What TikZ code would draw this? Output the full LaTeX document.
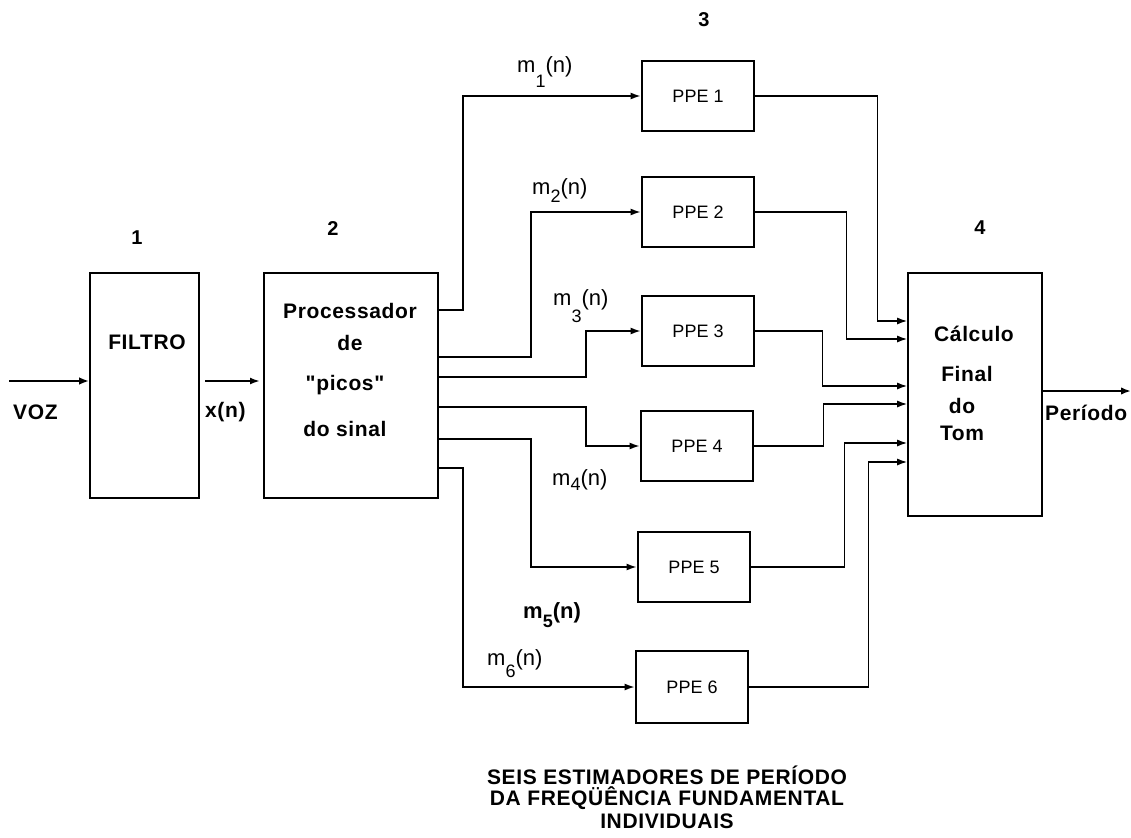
\documentclass[tikz,border=0pt]{standalone}
\usepackage{fontspec}
\setmainfont{Liberation Sans}
\newfontfamily\lbfam[LetterSpace=3,Ligatures=TeXOff]{Liberation Sans}
\usetikzlibrary{calc,arrows.meta}
\newcommand{\fsz}[1]{\fontsize{#1}{#1}\selectfont}
\newcommand{\msub}[2]{m\raisebox{-#2pt}{\fsz{18}#1}(n)}
\begin{document}
\begin{tikzpicture}[x=1pt,y=-1pt,
  blk/.style={draw,line width=1.6pt,inner sep=0pt},
  ppebox/.style={draw,line width=2.8pt,minimum width=112pt,minimum height=70pt,inner sep=0pt,font=\fsz{18}},
  conn/.style={line width=1.5pt},
  arr/.style={conn,-{Latex[length=10pt,width=7pt]}},
  bigarr/.style={line width=2.8pt,-{Latex[length=10pt,width=7.5pt]}},
  lbl/.style={font=\lbfam\fsz{21}\bfseries,inner sep=0pt,anchor=base},
  num/.style={font=\fsz{20}\bfseries,inner sep=0pt},
  mlbl/.style={font=\fsz{22},inner sep=0pt,anchor=base west}]
\useasboundingbox (0,0) rectangle (1131,837);

% main blocks
\node[blk,minimum width=109pt,minimum height=225pt] (filt) at (144.5,385.5) {};
\node[blk,minimum width=174pt,minimum height=225pt] (proc) at (351,385.5) {};
\node[blk,minimum width=134pt,minimum height=243pt] (fin) at (975,394.5) {};

% PPE blocks
\node[ppebox] (ppe1) at (698,96) {PPE 1};
\node[ppebox] (ppe2) at (698,212) {PPE 2};
\node[ppebox] (ppe3) at (698,331) {PPE 3};
\node[ppebox] (ppe4) at (697,446) {PPE 4};
\node[ppebox] (ppe5) at (694,567) {PPE 5};
\node[ppebox,minimum height=72pt] (ppe6) at (692,687) {PPE 6};

% numbers
\node[num] (n1) at (137,238) {1};
\node[num] (n2) at (333,229) {2};
\node[num] (n3) at (704,20) {3};
\node[num] (n4) at (980,228) {4};

% block texts
\node[lbl] (tfilt) at (147,349) {FILTRO};
\node[lbl] (tp1) at (350,318) {Processador};
\node[lbl] (tp2) at (350,350) {de};
\node[lbl] (tp3) at (345,390) {"picos"};
\node[lbl] (tp4) at (345,436) {do sinal};
\node[lbl] (tf1) at (974,341) {Cálculo};
\node[lbl] (tf2) at (967,381) {Final};
\node[lbl] (tf3) at (962,413) {do};
\node[lbl] (tf4) at (962,440) {Tom};

% input / output
\coordinate (vin) at (9,381);
\draw[bigarr] (vin) -- (vin -| filt.west);
\node[lbl,anchor=base west] (tvoz) at (13,419) {VOZ};
\coordinate (xa) at (205,381);
\coordinate (xb) at (260,381);
\draw[arr,line width=2.2pt] (xa) -- (xb);
\node[lbl,anchor=base west] (txn) at (205,417) {x(n)};
\coordinate (pout) at (1131,391);
\draw[bigarr] (fin.east |- pout) -- (pout);
\node[lbl,anchor=base west] (tper) at (1045,420) {Período};

% processor to PPEs
\draw[arr] ($(proc.east)+(0,-75.5)$) -- ++(24,0) |- (ppe1.west);
\draw[arr] ($(proc.east)+(0,-28.5)$) -- ++(92,0) |- (ppe2.west);
\draw[arr] ($(proc.east)+(0,-8.5)$) -- ++(147,0) |- (ppe3.west);
\draw[arr] ($(proc.east)+(0,21.5)$) -- ++(147,0) |- (ppe4.west);
\draw[arr] ($(proc.east)+(0,53.5)$) -- ++(92,0) |- (ppe5.west);
\draw[arr] ($(proc.east)+(0,82.5)$) -- ++(24,0) |- (ppe6.west);

% PPEs to final
\draw[arr] (ppe1.east) -- ++(122,0) |- ($(fin.west)+(0,-73.5)$);
\draw[arr] (ppe2.east) -- ++(91,0) |- ($(fin.west)+(0,-55.5)$);
\draw[arr] (ppe3.east) -- ++(67,0) |- ($(fin.west)+(0,-8.5)$);
\draw[arr] (ppe4.east) -- ++(69,0) |- ($(fin.west)+(0,9.5)$);
\draw[arr] (ppe5.east) -- ++(93,0) |- ($(fin.west)+(0,48.5)$);
\draw[arr] (ppe6.east) -- ++(119,0) |- ($(fin.west)+(0,67.5)$);

% signal labels
\node[mlbl] (m1) at (517,73) {\msub{1}{15}};
\node[mlbl] (m2) at (532,194) {\msub{2}{8}};
\node[mlbl] (m3) at (553,305) {\msub{3}{17}};
\node[mlbl] (m4) at (552,485) {\msub{4}{5}};
\node[mlbl,font=\fsz{22}\bfseries] (m5) at (523,618) {\msub{5}{9}};
\node[mlbl] (m6) at (487,665) {\msub{6}{12}};

% caption
\node[lbl,anchor=center] (c1) at (667,775) {SEIS ESTIMADORES DE PERÍODO};
\node[lbl,anchor=center] (c2) at (667,798) {DA FREQÜÊNCIA FUNDAMENTAL};
\node[lbl,anchor=center] (c3) at (667,821) {INDIVIDUAIS};
\end{tikzpicture}
\end{document}
